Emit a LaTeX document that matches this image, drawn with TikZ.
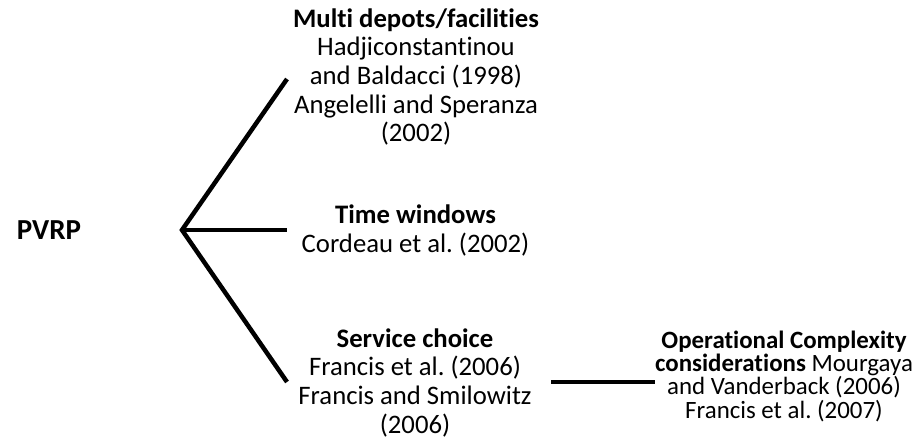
\documentclass[tikz,border=0pt]{standalone}
\usepackage{fontspec}
\setmainfont{Carlito}[Ligatures=NoCommon]
\frenchspacing
\begin{document}
\begin{tikzpicture}[x=1pt,y=-1pt,
  txt/.style={align=center, font=\fontsize{26.7}{28.6}\selectfont, inner sep=0pt, anchor=base},
  small/.style={align=center, font=\fontsize{24.9}{23.3}\selectfont, inner sep=0pt, anchor=base},
  branch/.style={line width=4.5pt, line cap=butt, line join=miter}]
\useasboundingbox (0,0) rectangle (917,441);
\node[font=\fontsize{29}{32}\selectfont\bfseries, inner sep=0pt, anchor=base] (pvrp) at (49,239) {PVRP};
\node[txt] (multi) at (416,141.7) {\textbf{Multi depots/facilities}\\Hadjiconstantinou\\and Baldacci (1998)\\Angelelli and Speranza\\(2002)};
\node[txt] (time) at (415.5,252) {\textbf{Time windows}\\Cordeau et al. (2002)};
\node[txt] (service) at (415,433) {\textbf{Service choice}\\Francis et al. (2006)\\Francis and Smilowitz\\(2006)};
\node[small] (opc) at (784,418) {\textbf{Operational Complexity}\\\textbf{considerations} Mourgaya\\and Vanderback (2006)\\Francis et al. (2007)};
\coordinate (apex) at (182,230);
\coordinate (e1) at (287,79);
\coordinate (e2) at (287,230);
\coordinate (e3) at (287,382);
\coordinate (h1) at (551,382);
\coordinate (h2) at (655,382);
\draw[branch] (e1) -- (apex) -- (e3);
\draw[branch] (apex) -- (e2);
\draw[branch] (h1) -- (h2);
\end{tikzpicture}
\end{document}
